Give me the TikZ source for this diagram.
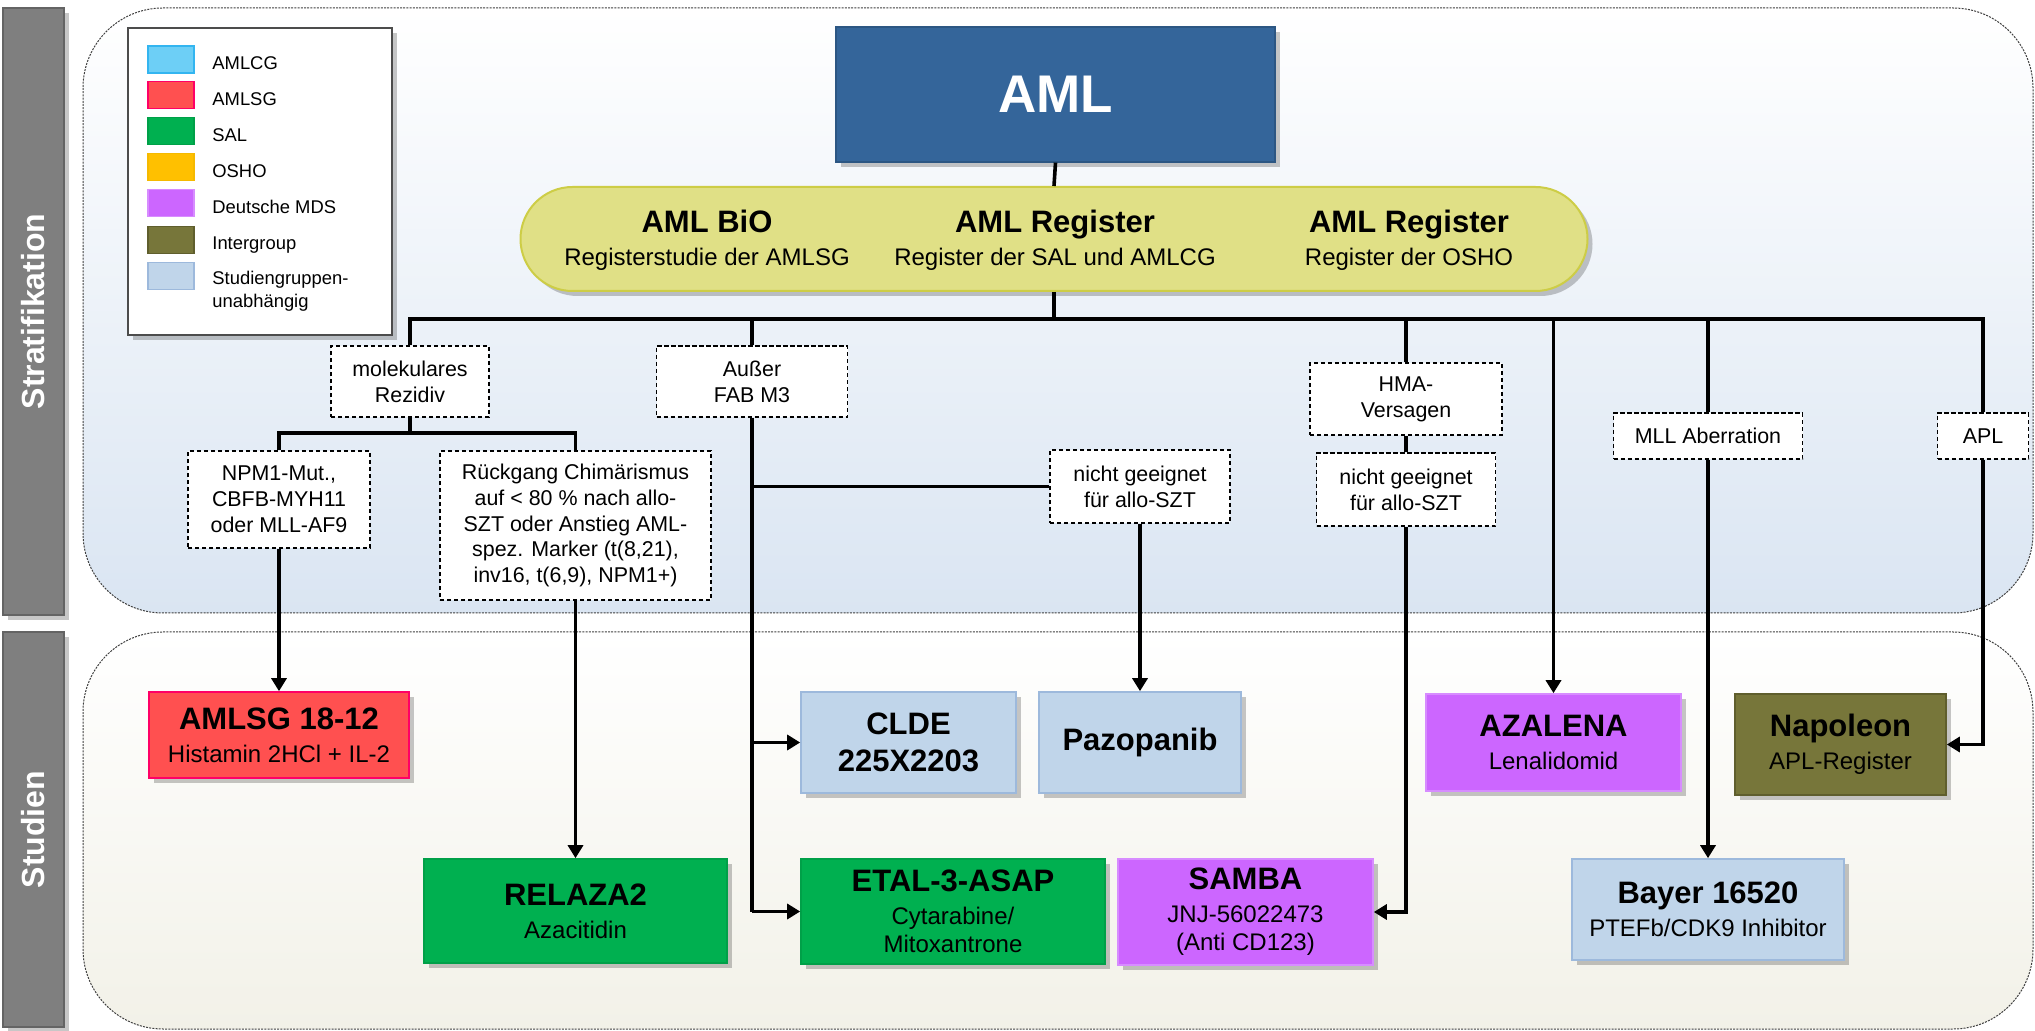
\documentclass[tikz,border=0pt]{standalone}
\usepackage{fontspec}
\setmainfont{Liberation Sans}
\usetikzlibrary{shadows,arrows.meta}
\definecolor{amlblue}{RGB}{52,101,154}
\definecolor{pillfill}{RGB}{224,224,134}
\definecolor{pilldraw}{RGB}{205,205,70}
\definecolor{cAMLCG}{RGB}{109,207,246}
\definecolor{cAMLCGd}{RGB}{51,181,240}
\definecolor{cAMLSG}{RGB}{255,80,80}
\definecolor{cAMLSGd}{RGB}{255,0,102}
\definecolor{cSAL}{RGB}{0,176,80}
\definecolor{cSALd}{RGB}{0,160,72}
\definecolor{cOSHO}{RGB}{255,192,0}
\definecolor{cOSHOd}{RGB}{245,185,0}
\definecolor{cMDS}{RGB}{204,102,255}
\definecolor{cMDSd}{RGB}{215,140,255}
\definecolor{cIG}{RGB}{119,118,58}
\definecolor{cIGd}{RGB}{95,94,45}
\definecolor{cSU}{RGB}{192,213,234}
\definecolor{cSUd}{RGB}{157,185,220}
\definecolor{barfill}{RGB}{127,127,127}
\definecolor{bardraw}{RGB}{100,100,100}
\definecolor{upbot}{RGB}{218,229,242}
\definecolor{lowbot}{RGB}{242,241,232}
\newcommand\mytitle[1]{{\bfseries\fontsize{15.5}{18.5}\selectfont #1}}
\newcommand\mysubt[1]{{\fontsize{12}{14}\selectfont #1}}
\tikzset{
  wh/.style 2 args={minimum width=#1*0.5pt, minimum height=#2*0.5pt},
  shad/.style={drop shadow={shadow xshift=2.5pt,shadow yshift=-2.5pt,fill=black,opacity=0.22}},
  dbox/.style={draw=black, fill=white, line width=0.8pt, dash pattern=on 2.2pt off 1.3pt,
    align=center, inner sep=0pt, font=\fontsize{10.7}{12.9}\selectfont},
  sbox/.style={shad, line width=0.8pt, align=center, inner sep=0pt, font=\fontsize{12}{16.5}\selectfont},
  conn/.style={line width=1.8pt, line join=miter},
  tipd/.style={-{Triangle[length=6.5pt,width=7.5pt]}},
  swatch/.style={wh={46}{27}, inner sep=0pt, line width=0.8pt},
  legtext/.style={anchor=west, inner sep=0pt, font=\fontsize{9.2}{11.5}\selectfont, align=left},
  panel/.style={draw=black!75, line width=0.5pt, dash pattern=on 1pt off 0.6pt, rounded corners=40pt},
  bar/.style={fill=barfill, draw=bardraw, line width=0.8pt, shad, inner sep=0pt},
  bartext/.style={rotate=90, text=white, inner sep=0pt, font=\bfseries\fontsize{16}{19}\selectfont},
  regtext/.style={align=center, inner sep=0pt, font=\fontsize{12}{16.5}\selectfont},
}
\begin{document}
\begin{tikzpicture}[x=0.5pt,y=-0.5pt]
\useasboundingbox (0,0) rectangle (2035,1031);
% panels
\path[panel, top color=white, bottom color=upbot] (83,8) rectangle (2033,613);
\path[panel, top color=white, bottom color=lowbot] (83,632) rectangle (2033,1029);
% side bars
\node[bar, wh={61}{607}] (barS) at (33.5,311.5) {};
\node[bartext] (barStext) at (barS) {Stratifikation};
\node[bar, wh={61}{395}] (barT) at (33.5,829.5) {};
\node[bartext] (barTtext) at (barT) {Studien};
% legend
\node[draw=black!70, fill=white, line width=0.8pt, shad, wh={264}{307}] (leg) at (260,181.5) {};
\node[swatch, fill=cAMLCG, draw=cAMLCGd] (s1) at (171,59.5) {};
\node[legtext] (t1) at (212,63) {AMLCG};
\node[swatch, fill=cAMLSG, draw=cAMLSGd] (s2) at (171,95) {};
\node[legtext] (t2) at (212,99) {AMLSG};
\node[swatch, fill=cSAL, draw=cSALd] (s3) at (171,131) {};
\node[legtext] (t3) at (212,135) {SAL};
\node[swatch, fill=cOSHO, draw=cOSHOd] (s4) at (171,167) {};
\node[legtext] (t4) at (212,171) {OSHO};
\node[swatch, fill=cMDS, draw=cMDSd] (s5) at (171,203) {};
\node[legtext] (t5) at (212,207) {Deutsche MDS};
\node[swatch, fill=cIG, draw=cIGd] (s6) at (171,240) {};
\node[legtext] (t6) at (212,245) {Intergroup};
\node[swatch, fill=cSU, draw=cSUd] (s7) at (171,276) {};
\node[legtext] (t7) at (212,291) {Studiengruppen-\\unabhängig};
% AML
\node[fill=amlblue, draw=amlblue!85!black, line width=0.6pt, shad, wh={439}{135}, inner sep=0pt,
  text=white, font=\bfseries\fontsize{26.5}{30}\selectfont] (aml) at (1055.5,94.5) {AML};
% registers pill
\node[fill=pillfill, draw=pilldraw, line width=1pt, shad, rounded corners=26pt, wh={1067}{104}] (pill) at (1054,239) {};
\node[regtext] (reg1) at (707,240) {\mytitle{AML BiO}\\Registerstudie der AMLSG};
\node[regtext] (reg2) at (1055,240) {\mytitle{AML Register}\\Register der SAL und AMLCG};
\node[regtext] (reg3) at (1409,240) {\mytitle{AML Register}\\Register der OSHO};
% criteria boxes
\node[dbox, wh={158}{71}] (mol) at (410,381.5) {molekulares\\Rezidiv};
\node[dbox, wh={191}{71}] (aus) at (752,381.5) {Außer\\FAB M3};
\node[dbox, wh={192}{72}] (hma) at (1406,399) {HMA-\\Versagen};
\node[dbox, wh={179}{73}] (nic2) at (1406,489.5) {nicht geeignet\\für allo-SZT};
\node[dbox, wh={180}{73}] (nic1) at (1140,486.5) {nicht geeignet\\für allo-SZT};
\node[dbox, wh={189}{46}] (mll) at (1708,436) {MLL Aberration};
\node[dbox, wh={91}{46}] (apl) at (1983,436) {APL};
\node[dbox, wh={182}{97}] (npm) at (279,499.5) {NPM1-Mut.,\\CBFB-MYH11\\oder MLL-AF9};
\node[dbox, wh={271}{149}] (rueck) at (575.5,525.5) {Rückgang Chimärismus\\auf < 80 \% nach allo-\\SZT oder Anstieg AML-\\spez. Marker (t(8,21),\\inv16, t(6,9), NPM1+)};
% studies
\node[sbox, fill=cAMLSG, draw=cAMLSGd, wh={260}{86}] (amlsg) at (279,735) {\mytitle{AMLSG 18-12}\\Histamin 2HCl + IL-2};
\node[sbox, fill=cSAL, draw=cSALd, wh={303}{104}] (relaza) at (575.5,911) {\mytitle{RELAZA2}\\Azacitidin};
\node[sbox, fill=cSU, draw=cSUd, wh={215}{101}, font=\bfseries\fontsize{15.5}{18.5}\selectfont] (clde) at (908.5,742.5) {CLDE\\225X2203};
\node[sbox, fill=cSU, draw=cSUd, wh={202}{101}] (pazo) at (1140,742.5) {\mytitle{Pazopanib}};
\node[sbox, fill=cSAL, draw=cSALd, wh={304}{105}] (etal) at (953,911.5) {\mytitle{ETAL-3-ASAP}\\Cytarabine/\\[-2.5pt]Mitoxantrone};
\node[sbox, fill=cMDS, draw=cMDSd, wh={255}{106}] (samba) at (1245.5,912) {\mytitle{SAMBA}\\JNJ-56022473\\[-2.5pt](Anti CD123)};
\node[sbox, fill=cMDS, draw=cMDSd, wh={255}{97}] (aza) at (1553.5,742.5) {\mytitle{AZALENA}\\Lenalidomid};
\node[sbox, fill=cIG, draw=cIGd, wh={211}{101}] (napo) at (1840.5,744.5) {\mytitle{Napoleon}\\APL-Register};
\node[sbox, fill=cSU, draw=cSUd, wh={272}{101}] (bayer) at (1708,909.5) {\mytitle{Bayer 16520}\\PTEFb/CDK9 Inhibitor};
% connectors
\coordinate (bL) at (410,319);
\coordinate (bR) at (1983,319);
\coordinate (mb) at (410,433);
\draw[conn] (aml.south) -- (pill.north);
\draw[conn] (pill.south) -- (pill.south |- bL);
\draw[conn] (mol.north) -- (bL) -- (bR) -- (apl.north);
\draw[conn] (aus.north) -- (aus.north |- bL);
\draw[conn] (hma.north) -- (hma.north |- bL);
\draw[conn] (mll.north) -- (mll.north |- bL);
\draw[conn,tipd] (aza.north |- bL) -- (aza.north);
\draw[conn] (mol.south) -- (mb);
\draw[conn] (npm.north) |- (mb) -| (rueck.north);
\draw[conn,tipd] (npm.south) -- (amlsg.north);
\draw[conn,tipd] (rueck.south) -- (relaza.north);
\draw[conn] (aus.south) -- (aus.south |- etal.west);
\draw[conn,tipd] (aus.south |- clde.west) -- (clde.west);
\draw[conn,tipd] (aus.south |- etal.west) -- (etal.west);
\draw[conn] (aus.south |- nic1.west) -- (nic1.west);
\draw[conn,tipd] (nic1.south) -- (pazo.north);
\draw[conn] (hma.south) -- (nic2.north);
\draw[conn,tipd] (nic2.south) |- (samba.east);
\draw[conn,tipd] (mll.south) -- (bayer.north);
\draw[conn,tipd] (apl.south) |- (napo.east);
\end{tikzpicture}
\end{document}
